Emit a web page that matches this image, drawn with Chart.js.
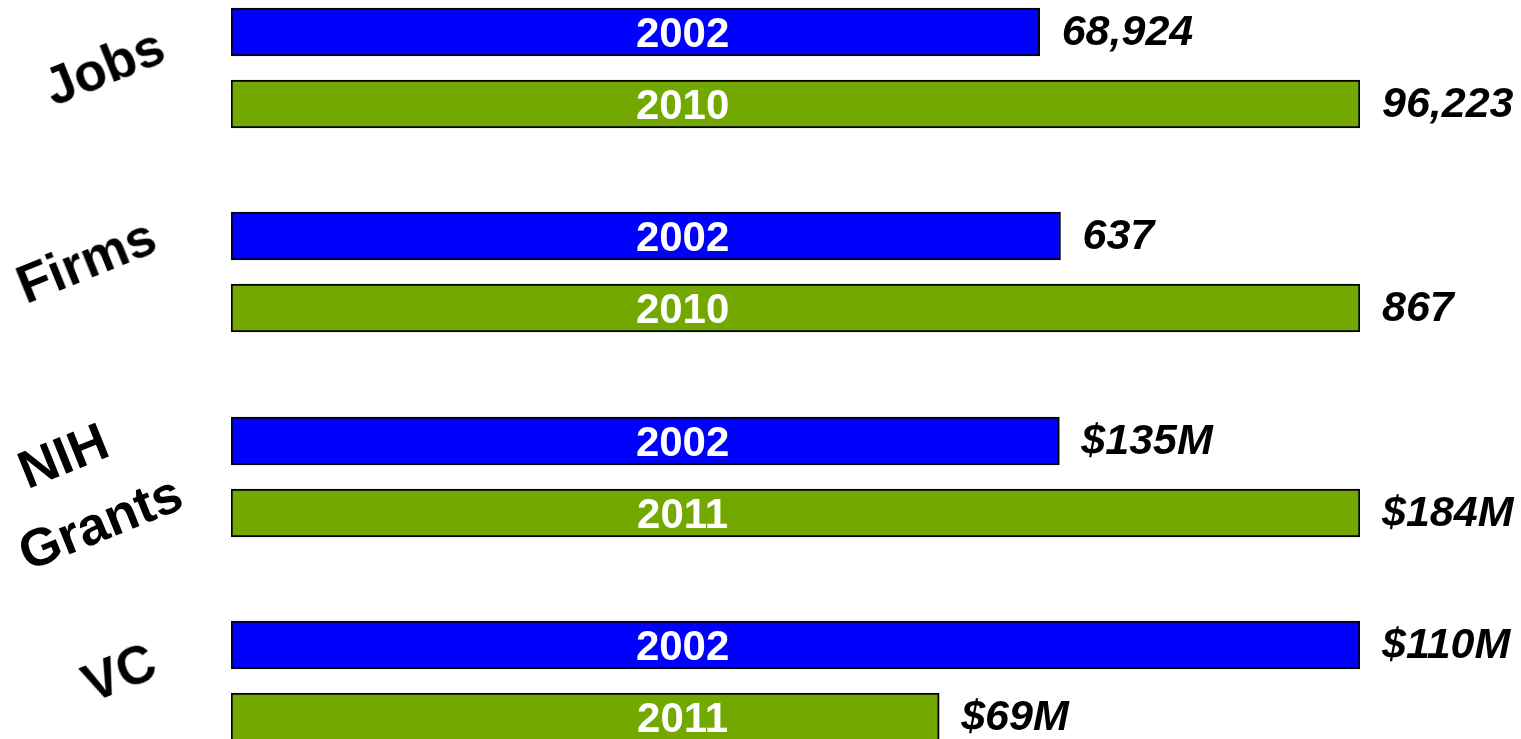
<!DOCTYPE html>
<html lang="en">
  <head>
    <meta charset="UTF-8" />
    <title>Jobs, Firms, NIH Grants, VC</title>
    <script src="https://cdn.jsdelivr.net/npm/chart.js@4.4.1/dist/chart.umd.min.js"></script>
    <style>
      body {
        margin: 0;
        width: 1521px;
        height: 739px;
        overflow: hidden;
        background: #ffffff;
        position: relative;
        font-family: "Liberation Sans", Arial, sans-serif;
      }
      .group {
        position: absolute;
        left: 0;
      }
      .group-label {
        position: absolute;
        font-weight: bold;
        font-size: 53px;
        color: #000;
        white-space: nowrap;
        transform: translate(-50%, -50%) rotate(-22deg);
        line-height: 1;
      }
    </style>
  </head>
  <body>
    <div class="group" style="top: -4px"><canvas id="jobsChart" width="1521" height="144"></canvas></div>
    <div class="group" style="top: 200px"><canvas id="firmsChart" width="1521" height="144"></canvas></div>
    <div class="group" style="top: 405px"><canvas id="nihChart" width="1521" height="144"></canvas></div>
    <div class="group" style="top: 609px"><canvas id="vcChart" width="1521" height="144"></canvas></div>

    <div class="group-label" style="left: 104px; top: 66px">Jobs</div>
    <div class="group-label" style="left: 86px; top: 260px">Firms</div>
    <div class="group-label" style="left: 63px; top: 455px">NIH</div>
    <div class="group-label" style="left: 100px; top: 522px">Grants</div>
    <div class="group-label" style="left: 119px; top: 672px">VC</div>

    <script>
      // data
      const jobsYears = ["2002", "2010"];
      const jobsValues = [68924, 96223];
      const firmsYears = ["2002", "2010"];
      const firmsValues = [637, 867];
      const nihYears = ["2002", "2011"];
      const nihValues = [135, 184];
      const vcYears = ["2002", "2011"];
      const vcValues = [110, 69];

      const barColors = ["#0000ff", "#72a800"];

      // draws year inside the bar and the value after its end
      const barLabels = {
        id: "barLabels",
        afterDatasetsDraw(chart, args, opts) {
          const ctx = chart.ctx;
          const area = chart.chartArea;
          const meta = chart.getDatasetMeta(0);
          ctx.save();
          ctx.textBaseline = "middle";
          meta.data.forEach((bar, i) => {
            ctx.fillStyle = "#ffffff";
            ctx.textAlign = "center";
            ctx.font = 'bold 42px "Liberation Sans", Arial, sans-serif';
            ctx.fillText(chart.data.labels[i], area.left + (area.right - area.left) * 0.4, bar.y + 3);

            ctx.fillStyle = "#000000";
            ctx.textAlign = "left";
            ctx.font = 'italic bold 43px "Liberation Sans", Arial, sans-serif';
            ctx.fillText(opts.format(chart.data.datasets[0].data[i]), bar.x + 22, bar.y + 1);
          });
          ctx.restore();
        },
      };

      function createGroup(id, years, values, format) {
        const ctx = document.getElementById(id).getContext("2d");
        return new Chart(ctx, {
          type: "bar",
          data: {
            labels: years,
            datasets: [
              {
                data: values,
                backgroundColor: barColors,
                borderColor: "#000000",
                borderWidth: 2,
                borderSkipped: false,
                barThickness: 48,
              },
            ],
          },
          options: {
            indexAxis: "y",
            responsive: false,
            animation: false,
            layout: { padding: { left: 231, right: 161, top: 0, bottom: 0 } },
            scales: {
              x: { type: "linear", min: 0, max: Math.max(...values), display: false },
              y: { type: "category", display: false },
            },
            plugins: {
              legend: { display: false },
              tooltip: { enabled: false },
              barLabels: { format: format },
            },
          },
          plugins: [barLabels],
        });
      }

      const plain = (v) => v.toLocaleString("en-US");
      const millions = (v) => "$" + v + "M";

      createGroup("jobsChart", jobsYears, jobsValues, plain);
      createGroup("firmsChart", firmsYears, firmsValues, plain);
      createGroup("nihChart", nihYears, nihValues, millions);
      createGroup("vcChart", vcYears, vcValues, millions);
    </script>
  </body>
</html>
